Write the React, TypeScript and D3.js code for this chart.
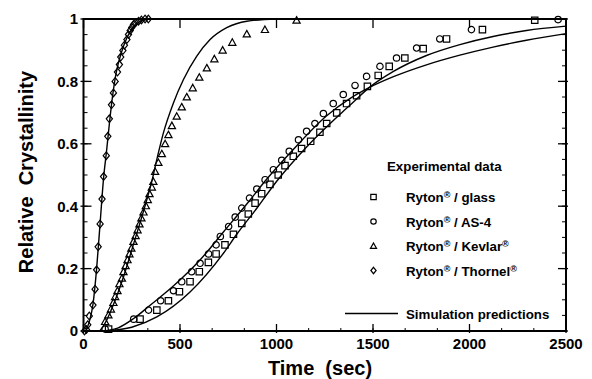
import React from "react";
import * as d3 from "d3";

const W = 592;
const H = 379;

// Experimental data: [time (sec), relative crystallinity]
const glassData: [number, number][] = [
  [130, 0.006], [293, 0.038], [380, 0.067], [440, 0.097], [497, 0.126], [552, 0.158],
  [600, 0.19], [647, 0.22], [687, 0.247], [733, 0.276], [777, 0.31], [820, 0.345],
  [854, 0.375], [889, 0.41], [923, 0.44], [966, 0.47], [1009, 0.5], [1044, 0.53],
  [1087, 0.56], [1130, 0.585], [1177, 0.608], [1225, 0.637], [1260, 0.665], [1312, 0.699],
  [1363, 0.729], [1415, 0.754], [1471, 0.784], [1527, 0.819], [1584, 0.848], [1665, 0.875],
  [1760, 0.905], [1881, 0.936], [2067, 0.966], [2338, 0.996],
];
const as4Data: [number, number][] = [
  [112, 0.006], [260, 0.038], [337, 0.067], [400, 0.097], [466, 0.129], [509, 0.158],
  [561, 0.19], [604, 0.217], [648, 0.247], [687, 0.276], [709, 0.303], [752, 0.335],
  [786, 0.365], [820, 0.394], [860, 0.426], [898, 0.455], [941, 0.485], [984, 0.517],
  [1027, 0.547], [1066, 0.576], [1114, 0.613], [1156, 0.64], [1199, 0.665], [1243, 0.697],
  [1294, 0.729], [1346, 0.758], [1407, 0.787], [1467, 0.816], [1536, 0.848], [1622, 0.875],
  [1726, 0.907], [1846, 0.936], [2010, 0.966], [2459, 0.998],
];
const kevlarData: [number, number][] = [
  [112, 0.03], [129, 0.051], [142, 0.07], [155, 0.091], [164, 0.11], [176, 0.129],
  [186, 0.151], [199, 0.169], [207, 0.19], [218, 0.209], [228, 0.228], [238, 0.247],
  [248, 0.265], [259, 0.287], [270, 0.305], [280, 0.324], [290, 0.343], [300, 0.362],
  [311, 0.381], [323, 0.401], [333, 0.421], [342, 0.44], [354, 0.461], [362, 0.479],
  [371, 0.511], [388, 0.54], [406, 0.568], [423, 0.6], [440, 0.629], [458, 0.658],
  [483, 0.688], [509, 0.718], [535, 0.75], [566, 0.779], [600, 0.813], [639, 0.843],
  [678, 0.872], [721, 0.9], [771, 0.925], [846, 0.952], [940, 0.966], [1104, 0.996],
];
const thornelData: [number, number][] = [
  [5, 0.0], [15, 0.005], [22, 0.02], [30, 0.048], [49, 0.083], [60, 0.134], [68, 0.196],
  [76, 0.27], [86, 0.343], [96, 0.423], [104, 0.495], [118, 0.562], [126, 0.624],
  [134, 0.68], [145, 0.725], [155, 0.763], [164, 0.8], [176, 0.83], [186, 0.854],
  [193, 0.878], [204, 0.899], [212, 0.916], [225, 0.934], [233, 0.95], [242, 0.963],
  [250, 0.973], [259, 0.982], [270, 0.988], [285, 0.993], [300, 0.997], [319, 1.0], [336, 1.0],
];

// Simulation predictions
const glassSim: [number, number][] = [
  [120, 0], [250, 0.012], [380, 0.045], [552, 0.125], [726, 0.25], [794, 0.31], [900, 0.395],
  [1001, 0.48], [1156, 0.59], [1329, 0.695], [1400, 0.735], [1480, 0.78], [1606, 0.832],
  [1777, 0.883], [1950, 0.918], [2122, 0.944], [2295, 0.963], [2500, 0.977],
];
const as4Sim: [number, number][] = [
  [100, 0], [180, 0.01], [260, 0.04], [350, 0.085], [467, 0.145], [600, 0.225], [726, 0.318],
  [863, 0.42], [940, 0.48], [1087, 0.582], [1260, 0.69], [1380, 0.745], [1480, 0.78],
  [1606, 0.815], [1777, 0.853], [1950, 0.884], [2122, 0.91], [2295, 0.932], [2500, 0.953],
];
const kevlarSim: [number, number][] = [
  [85, 0], [112, 0.025], [165, 0.1], [200, 0.16], [260, 0.28], [330, 0.425], [354, 0.48],
  [380, 0.55], [414, 0.635], [466, 0.731], [518, 0.806], [587, 0.881], [656, 0.934],
  [742, 0.972], [846, 0.993], [1001, 1.0],
];
const thornelSim: [number, number][] = [
  [12, 0], [30, 0.03], [49, 0.085], [68, 0.2], [86, 0.345], [104, 0.49], [120, 0.58],
  [135, 0.67], [150, 0.75], [170, 0.83], [195, 0.89], [225, 0.94], [260, 0.975],
  [300, 0.995], [340, 1.0],
];

const xTicks = [0, 500, 1000, 1500, 2000, 2500];
const yTicks = [0, 0.2, 0.4, 0.6, 0.8, 1];
const yTickLabels = ["0", "0.2", "0.4", "0.6", "0.8", "1"];
const legendLabels = ["Ryton® / glass", "Ryton® / AS-4", "Ryton® / Kevlar®", "Ryton® / Thornel®"];
const legendShapes = ["square", "circle", "triangle", "diamond"];

const FONT = "'Liberation Sans', Arial, Helvetica, sans-serif";

function markerPath(shape: string, cx: number, cy: number, k = 1): string {
  switch (shape) {
    case "square": {
      const s = 3.2 * k;
      return `M${cx - s},${cy - s}H${cx + s}V${cy + s}H${cx - s}Z`;
    }
    case "circle": {
      const r = 3.2 * k;
      return `M${cx - r},${cy}a${r},${r} 0 1,0 ${2 * r},0a${r},${r} 0 1,0 ${-2 * r},0Z`;
    }
    case "triangle": {
      const s = 3.6 * k;
      return `M${cx},${cy - s}L${cx + s},${cy + s * 0.8}L${cx - s},${cy + s * 0.8}Z`;
    }
    default: {
      const w = 3.1 * k, h = 3.8 * k;
      return `M${cx},${cy - h}L${cx + w},${cy}L${cx},${cy + h}L${cx - w},${cy}Z`;
    }
  }
}

// Renders a label with a raised, smaller ® sign
function RegText({ label }: { label: string }) {
  const parts = label.split("®");
  const out: React.ReactNode[] = [];
  parts.forEach((p, i) => {
    if (p) out.push(<tspan key={"p" + i} dy={i > 0 ? 4 : 0}>{p}</tspan>);
    if (i < parts.length - 1)
      out.push(
        <tspan key={"r" + i} fontSize={9} dy={-4}>
          ®
        </tspan>
      );
  });
  return <>{out}</>;
}

export default function App() {
  const x = d3.scaleLinear().domain([0, 2500]).range([83.5, 566]);
  const y = d3.scaleLinear().domain([0, 1]).range([331, 19]);
  const line = d3
    .line<[number, number]>()
    .x((d) => x(d[0]))
    .y((d) => y(d[1]))
    .curve(d3.curveMonotoneX);

  const series = [
    { data: glassData, shape: "square" },
    { data: as4Data, shape: "circle" },
    { data: kevlarData, shape: "triangle" },
    { data: thornelData, shape: "diamond" },
  ];
  const sims = [glassSim, as4Sim, kevlarSim, thornelSim];

  const x0 = x(0), x1 = x(2500), y0 = y(0), y1 = y(1);
  const minorX = d3.range(0, 2500.1, 500 / 3);
  const minorY = d3.range(0, 1.001, 0.05);

  return (
    <svg
      width={W}
      height={H}
      style={{ position: "absolute", left: 0, top: 0, background: "#fff" }}
      fontFamily={FONT}
    >
      <rect x={0} y={0} width={W} height={H} fill="#fff" />
      {minorX.map((v, i) => (
        <line key={"mx" + i} x1={x(v)} x2={x(v)} y1={y0} y2={y0 - 3} stroke="#000" strokeWidth={1} />
      ))}
      {minorY.map((v, i) => (
        <g key={"my" + i}>
          <line x1={x0} x2={x0 + 4} y1={y(v)} y2={y(v)} stroke="#000" strokeWidth={1} />
          <line x1={x1} x2={x1 - 4} y1={y(v)} y2={y(v)} stroke="#000" strokeWidth={1} />
        </g>
      ))}
      {xTicks.map((v) => (
        <g key={"xt" + v}>
          <line x1={x(v)} x2={x(v)} y1={y0 + 2} y2={y0 - 7} stroke="#000" strokeWidth={1.3} />
          <line x1={x(v)} x2={x(v)} y1={y1} y2={y1 + 9} stroke="#000" strokeWidth={1.3} />
          <text x={x(v)} y={349} textAnchor="middle" fontSize={15} fontWeight="bold">
            {v}
          </text>
        </g>
      ))}
      {yTicks.map((v, i) => (
        <g key={"yt" + v}>
          <line x1={x0 - 3} x2={x0 + 8} y1={y(v)} y2={y(v)} stroke="#000" strokeWidth={1.3} />
          <line x1={x1 + 2} x2={x1 - 8} y1={y(v)} y2={y(v)} stroke="#000" strokeWidth={1.3} />
          <text x={78} y={y(v)} dy="0.36em" textAnchor="end" fontSize={15} fontWeight="bold">
            {yTickLabels[i]}
          </text>
        </g>
      ))}
      <rect x={x0} y={y1} width={x1 - x0} height={y0 - y1} fill="none" stroke="#000" strokeWidth={2} />

      {series.map((s, si) => (
        <g key={"s" + si}>
          {s.data.map((d, i) => (
            <path key={i} d={markerPath(s.shape, x(d[0]), y(d[1]))} fill="none" stroke="#000" strokeWidth={1.2} />
          ))}
        </g>
      ))}
      {sims.map((s, i) => (
        <path key={"sim" + i} d={line(s) || ""} fill="none" stroke="#000" strokeWidth={1.4} />
      ))}

      <text x={387} y={171} fontSize={13.3} fontWeight="bold">
        Experimental data
      </text>
      {legendLabels.map((lab, i) => {
        const ly = 197 + i * 24.5;
        return (
          <g key={"lg" + i}>
            <path d={markerPath(legendShapes[i], 373.5, ly, 0.85)} fill="none" stroke="#000" strokeWidth={1.2} />
            <text x={406} y={ly + 5} fontSize={13.3} fontWeight="bold">
              <RegText label={lab} />
            </text>
          </g>
        );
      })}
      <line x1={345} x2={398} y1={313.5} y2={313.5} stroke="#000" strokeWidth={1.4} />
      <text x={406} y={318.5} fontSize={13.3} fontWeight="bold">
        Simulation predictions
      </text>

      <text x={320} y={375} textAnchor="middle" fontSize={20} fontWeight="bold" style={{ whiteSpace: "pre" }}>
        {"Time  (sec)"}
      </text>
      <text
        transform={`translate(33,172) rotate(-90)`}
        textAnchor="middle"
        fontSize={20}
        fontWeight="bold"
        style={{ whiteSpace: "pre" }}
      >
        {"Relative  Crystallinity"}
      </text>
    </svg>
  );
}
